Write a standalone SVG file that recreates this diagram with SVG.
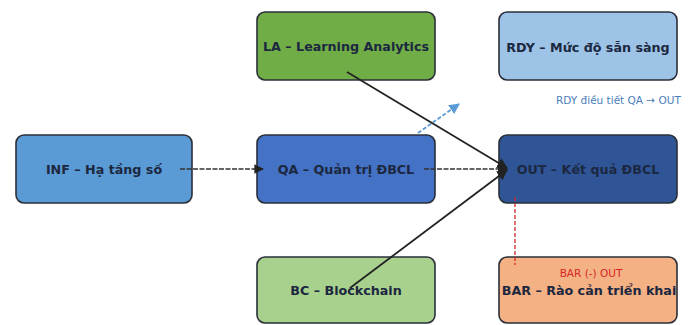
<svg xmlns="http://www.w3.org/2000/svg" width="690" height="325" viewBox="0 0 690 325">
<style>
.box{stroke:#2a2f3a;stroke-width:1.6}
.t{font-family:"DejaVu Sans",sans-serif;font-weight:bold;font-size:12.7px;fill:#1c2740;text-anchor:middle;dominant-baseline:central}
.e{fill:none;stroke:#222;stroke-width:1.8}
.ed{fill:none;stroke:#333;stroke-width:1.6;stroke-dasharray:5 1.5}
.lbl{font-family:"DejaVu Sans",sans-serif;font-size:10.5px;dominant-baseline:central}
</style>
<defs>
<marker id="ah" viewBox="0 0 10 10" refX="9" refY="5" markerWidth="6" markerHeight="6" orient="auto"><path d="M0,0L10,5L0,10z" fill="#222"/></marker>
<marker id="ahb" viewBox="0 0 10 10" refX="9" refY="5" markerWidth="6" markerHeight="6" orient="auto"><path d="M0,0L10,5L0,10z" fill="#5b9bd5"/></marker>
<clipPath id="cbar"><rect x="499" y="257" width="178" height="66" rx="8"/></clipPath>
</defs>
<rect width="690" height="325" fill="#ffffff"/>
<g id="node-INF"><rect class="box" x="16" y="135" width="176" height="68" rx="8" fill="#5b9bd5"/><text class="t" x="104" y="169">INF – Hạ tầng số</text></g>
<g id="node-QA"><rect class="box" x="257" y="135" width="178" height="68" rx="8" fill="#4472c4"/><text class="t" x="346" y="169">QA – Quản trị ĐBCL</text></g>
<g id="node-OUT"><rect class="box" x="499" y="135" width="178" height="68" rx="8" fill="#2f5597"/><text class="t" x="588" y="169">OUT – Kết quả ĐBCL</text></g>
<g id="node-LA"><rect class="box" x="257" y="12" width="178" height="68" rx="8" fill="#70ad47"/><text class="t" x="346" y="46">LA – Learning Analytics</text></g>
<g id="node-RDY"><rect class="box" x="499" y="12" width="178" height="68" rx="8" fill="#9dc3e6"/><text class="t" x="588" y="47">RDY – Mức độ sẵn sàng</text></g>
<g id="node-BC"><rect class="box" x="257" y="257" width="178" height="66" rx="8" fill="#a9d18e"/><text class="t" x="346" y="290">BC – Blockchain</text></g>
<g id="node-BAR"><rect class="box" x="499" y="257" width="178" height="66" rx="8" fill="#f4b183"/><g clip-path="url(#cbar)"><text class="t" x="589" y="290" fill="#1a1a1a">BAR – Rào cản triển khai</text></g></g>
<g id="connectors">
<line class="ed" x1="180" y1="169" x2="263" y2="169" marker-end="url(#ah)"/>
<line class="ed" x1="424" y1="169" x2="507" y2="169" marker-end="url(#ah)"/>
<line class="e" x1="347" y1="72" x2="507" y2="168" marker-end="url(#ah)"/>
<line class="e" x1="350" y1="288" x2="507" y2="170" marker-end="url(#ah)"/>
<line x1="418" y1="133" x2="459" y2="104" stroke="#5b9bd5" stroke-width="1.8" stroke-dasharray="4 2" marker-end="url(#ahb)"/>
<line x1="515" y1="197" x2="515" y2="265" stroke="#d62728" stroke-width="1.3" stroke-dasharray="4 2"/>
<text class="lbl" x="556" y="100" fill="#4a7ebb">RDY điều tiết QA → OUT</text>
<text class="lbl" x="591" y="273" fill="#d62728" text-anchor="middle">BAR (-) OUT</text>
</g>
</svg>
